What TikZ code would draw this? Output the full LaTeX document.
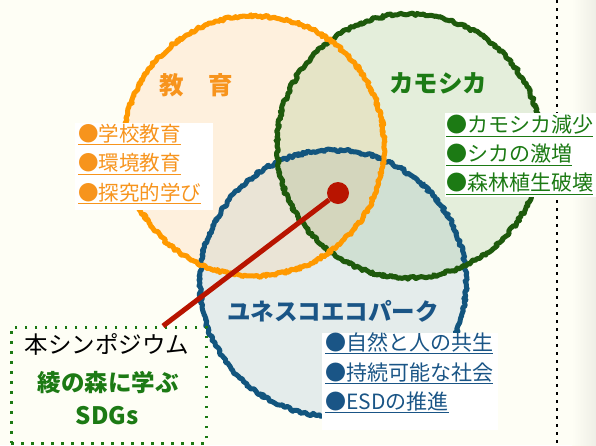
\documentclass[tikz,border=0pt]{standalone}
\usepackage{fontspec}
\setmainfont{Noto Sans CJK JP}
\usetikzlibrary{decorations.pathmorphing}
\definecolor{bgcol}{HTML}{FEFEF5}
\definecolor{edu}{HTML}{FF9900}
\definecolor{edutext}{HTML}{F7941D}
\definecolor{kamo}{HTML}{1E5A0C}
\definecolor{kamotext}{HTML}{1C7A14}
\definecolor{park}{HTML}{12557E}
\definecolor{parktext}{HTML}{1A5586}
\definecolor{hubred}{HTML}{B81400}
\definecolor{fillO}{HTML}{FEF0DD}
\definecolor{fillG}{HTML}{E4EEDB}
\definecolor{fillB}{HTML}{E4ECEB}
\definecolor{fillOG}{HTML}{E5E4C6}
\definecolor{fillOB}{HTML}{EAE4D6}
\definecolor{fillGB}{HTML}{D0E0D3}
\definecolor{fillOGB}{HTML}{D4D6BD}
\tikzset{
  chalk/.style={line width=5pt, line join=round, decorate,
    decoration={random steps, segment length=2pt, amplitude=1.5pt}},
  ringtitle/.style={font=\fontsize{24.5}{28}\selectfont\bfseries},
  itemlist/.style={align=left, anchor=west, inner sep=0pt,
    font=\fontsize{20.5}{29.5}\selectfont},
}
\newcommand{\itm}[1]{\underline{●#1}}
\newcommand{\ringO}{(254,146) circle[radius=130pt]}
\newcommand{\ringG}{(409,146) circle[radius=132pt]}
\newcommand{\ringB}{(333,283) circle[radius=133pt]}
\begin{document}
\begin{tikzpicture}[x=1pt,y=-1pt]
  \useasboundingbox (0,0) rectangle (596,445);
  \fill[bgcol] (0,0) rectangle (596,445);
  \shade[left color=bgcol, right color=black!6!bgcol] (572,0) rectangle (596,445);
  \draw[black, line width=2.5pt, dash pattern=on 2.5pt off 5.5pt] (557,0) -- (557,445);
  % fills of the three rings and their overlaps
  \fill[fillO] \ringO;
  \fill[fillG] \ringG;
  \fill[fillB] \ringB;
  \begin{scope}
    \clip \ringO;
    \fill[fillOG] \ringG;
    \fill[fillOB] \ringB;
  \end{scope}
  \begin{scope}
    \clip \ringG;
    \fill[fillGB] \ringB;
    \clip \ringO;
    \fill[fillOGB] \ringB;
  \end{scope}
  % rough borders
  \draw[chalk, park] \ringB;
  \draw[chalk, kamo] \ringG;
  \draw[chalk, edu] \ringO;
  % titles
  \node[ringtitle, text=edutext] (edu) at (196,85) {教\hspace{1em}育};
  \node[ringtitle, text=kamotext] (kamo) at (438,83) {カモシカ};
  \node[ringtitle, text=parktext, font=\fontsize{23.5}{28}\selectfont\bfseries] (park) at (333,311) {ユネスコエコパーク};
  % item lists
  \fill[white] (75,123) rectangle (213,210);
  \fill[white] (445,113) rectangle (596,197);
  \fill[white] (322,333) rectangle (498,430);
  \node[itemlist, text=edutext] (edulist) at (78,164)
    {\itm{学校教育}\\\itm{環境教育}\\\itm{探究的学び}};
  \node[itemlist, text=kamotext, font=\fontsize{21}{29}\selectfont] (kamolist) at (446,155)
    {\itm{カモシカ減少}\\\itm{シカの激増}\\\itm{森林植生破壊}};
  \node[itemlist, text=parktext, font=\fontsize{21}{29.5}\selectfont] (parklist) at (325,373)
    {\itm{自然と人の共生}\\\itm{持続可能な社会}\\\itm{ESDの推進}};
  % symposium box
  \node[draw=kamotext, line width=2.5pt, dash pattern=on 2.5pt off 7.5pt,
    anchor=north west, minimum width=195pt, minimum height=116pt] (sympo) at (10,326) {};
  \node[font=\fontsize{23.5}{28}\selectfont] (sympotitle) at (107,344) {本シンポジウム};
  \node[font=\fontsize{23.5}{28}\selectfont\bfseries, text=kamotext] (symponame) at (108,383) {綾の森に学ぶ};
  \node[font=\fontsize{24}{28}\selectfont\bfseries, text=kamotext] (sdgs) at (107,416) {SDGs};
  % pointer
  \coordinate (tip) at (163,326);
  \node[circle, fill=hubred, inner sep=0pt, minimum size=22pt] (hub) at (338,193) {};
  \draw[hubred, line width=5pt] (hub) -- (tip);
\end{tikzpicture}
\end{document}
